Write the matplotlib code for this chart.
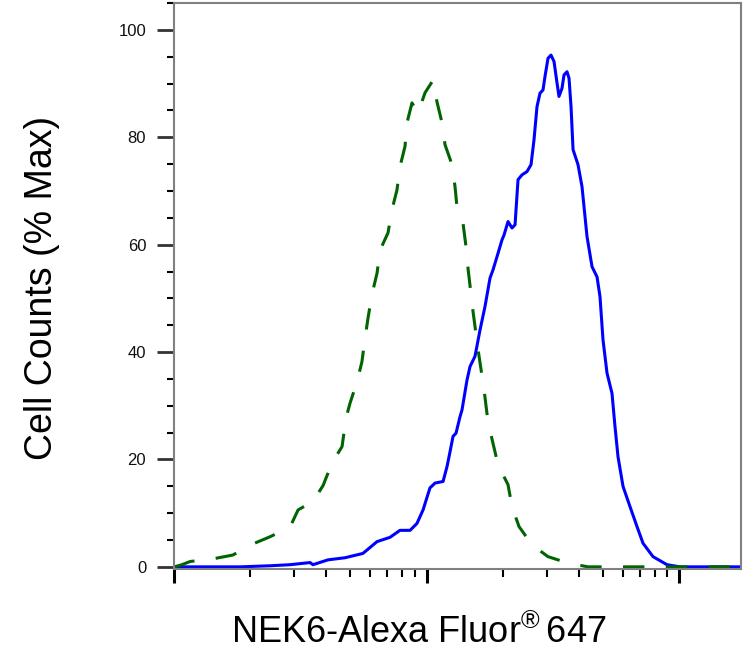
import numpy as np
import matplotlib
matplotlib.use("Agg")
from matplotlib import pyplot as plt
from matplotlib.ticker import MultipleLocator, LogLocator, NullFormatter

plt.rcParams['font.family'] = ['Liberation Sans', 'DejaVu Sans']
plt.rcParams['mathtext.fontset'] = 'custom'
plt.rcParams['mathtext.rm'] = 'Liberation Sans'

# isotype control (green dashed)
ctrl_x = [100, 106, 116, 143, 171, 206, 240, 288, 310, 355, 389, 423, 463, 480, 498,
          531, 555, 571, 587, 608, 637, 655, 704, 730, 764, 785, 822, 837, 876, 925,
          987, 1061, 1100, 1152, 1184, 1262, 1297, 1321, 1395, 1434, 1460, 1529, 1600,
          1690, 1752, 1834, 1920, 2103, 2181, 2325, 2617, 3028, 3634, 4362, 17600]
ctrl_y = [0, 0.3, 1.0, 1.5, 2.2, 4.3, 5.6, 7.4, 10.6, 12.2, 15.1, 19.4, 22.4, 27.7, 30.5,
          34.5, 38.2, 42.6, 46.4, 50.7, 54.7, 59.0, 62.2, 66.5, 70.2, 74.5, 78.3, 82.7, 86.4, 84.5,
          88.3, 90.6, 86.6, 82.7, 78.6, 74.9, 70.8, 66.9, 64.0, 59.6, 55.6, 47.5, 40.5,
          33.0, 27.0, 23.0, 19.0, 15.3, 11.2, 7.5, 4.1, 1.9, 0.7, 0, 0]

# NEK6 stained (blue)
nek6_x = [100, 127, 183, 209, 240, 288, 346, 355, 407, 476, 560, 637, 717, 785, 861,
          917, 969, 1032, 1081, 1163, 1206, 1228, 1274, 1309, 1358, 1382, 1447, 1487,
          1556, 1629, 1705, 1785, 1834, 1920, 1991, 2028, 2103, 2181, 2242, 2304, 2389,
          2500, 2594, 2665, 2739, 2815, 2893, 2946, 3028, 3112, 3199, 3288, 3347, 3440,
          3504, 3601, 3668, 3736, 3805, 3981, 4129, 4244, 4322, 4524, 4735, 4866, 5000,
          5186, 5428, 5579, 5734, 6001, 6398, 6818, 7201, 7889, 8965, 10090, 17600]
nek6_y = [0, 0, 0, 0.1, 0.2, 0.4, 0.8, 0.4, 1.3, 1.7, 2.5, 4.7, 5.5, 6.8, 6.8,
          8.1, 10.6, 14.7, 15.6, 15.9, 18.7, 20.5, 24.3, 24.9, 28.0, 29.2, 34.8, 37.3,
          39.2, 44.1, 48.5, 53.8, 55.3, 58.4, 60.9, 61.8, 64.3, 63.1, 63.7, 72.1, 73.0,
          73.6, 74.9, 79.5, 85.7, 88.2, 88.8, 91.3, 94.7, 95.3, 94.1, 90.1, 87.6, 89.1,
          91.6, 92.2, 91.0, 85.7, 77.7, 74.9, 70.8, 65.2, 61.5, 55.9, 54.0, 50.3, 42.3,
          36.1, 32.3, 26.1, 20.5, 15.0, 11.2, 7.5, 4.4, 1.9, 0.4, 0, 0]

fig = plt.figure(figsize=(7.55, 6.65), dpi=100)
ax = fig.add_axes([174/755, 1 - 569/665, 567/755, 566/665])

ax.plot(nek6_x, nek6_y, color='#0000ff', lw=2.2, solid_joinstyle='round')
ax.plot(ctrl_x, ctrl_y, color='#006400', lw=2.2, dashes=(7, 7))

ax.set_xscale('log')
ax.set_xlim(100, 17600)
ax.set_ylim(-0.4, 105)

ax.xaxis.set_major_locator(LogLocator(base=10))
ax.xaxis.set_minor_locator(LogLocator(base=10, subs=np.arange(2, 10)))
ax.xaxis.set_major_formatter(NullFormatter())
ax.xaxis.set_minor_formatter(NullFormatter())
ax.yaxis.set_major_locator(MultipleLocator(20))
ax.yaxis.set_minor_locator(MultipleLocator(5))

for s in ax.spines.values():
    s.set_color('#808080')
    s.set_linewidth(1.5)

ax.tick_params(axis='y', which='major', length=12, width=2, color='#333333',
               labelsize=12, pad=8, labelcolor='#111111')
ax.tick_params(axis='y', which='minor', length=5, width=1.5, color='black')
ax.tick_params(axis='x', which='major', length=10, width=2.2, color='black')
ax.tick_params(axis='x', which='minor', length=6, width=1.5, color='black')

fig.text(419/755, 1 - 643/665, 'NEK6-Alexa Fluor$^{\\mathrm{®}}\\,$647', fontsize=26,
         ha='center', va='baseline')
fig.text(52/755, 1 - 288/665, 'Cell Counts (% Max)', fontsize=27, rotation=90,
         rotation_mode='anchor', ha='center', va='baseline')

fig.savefig('out.png', dpi=100)
